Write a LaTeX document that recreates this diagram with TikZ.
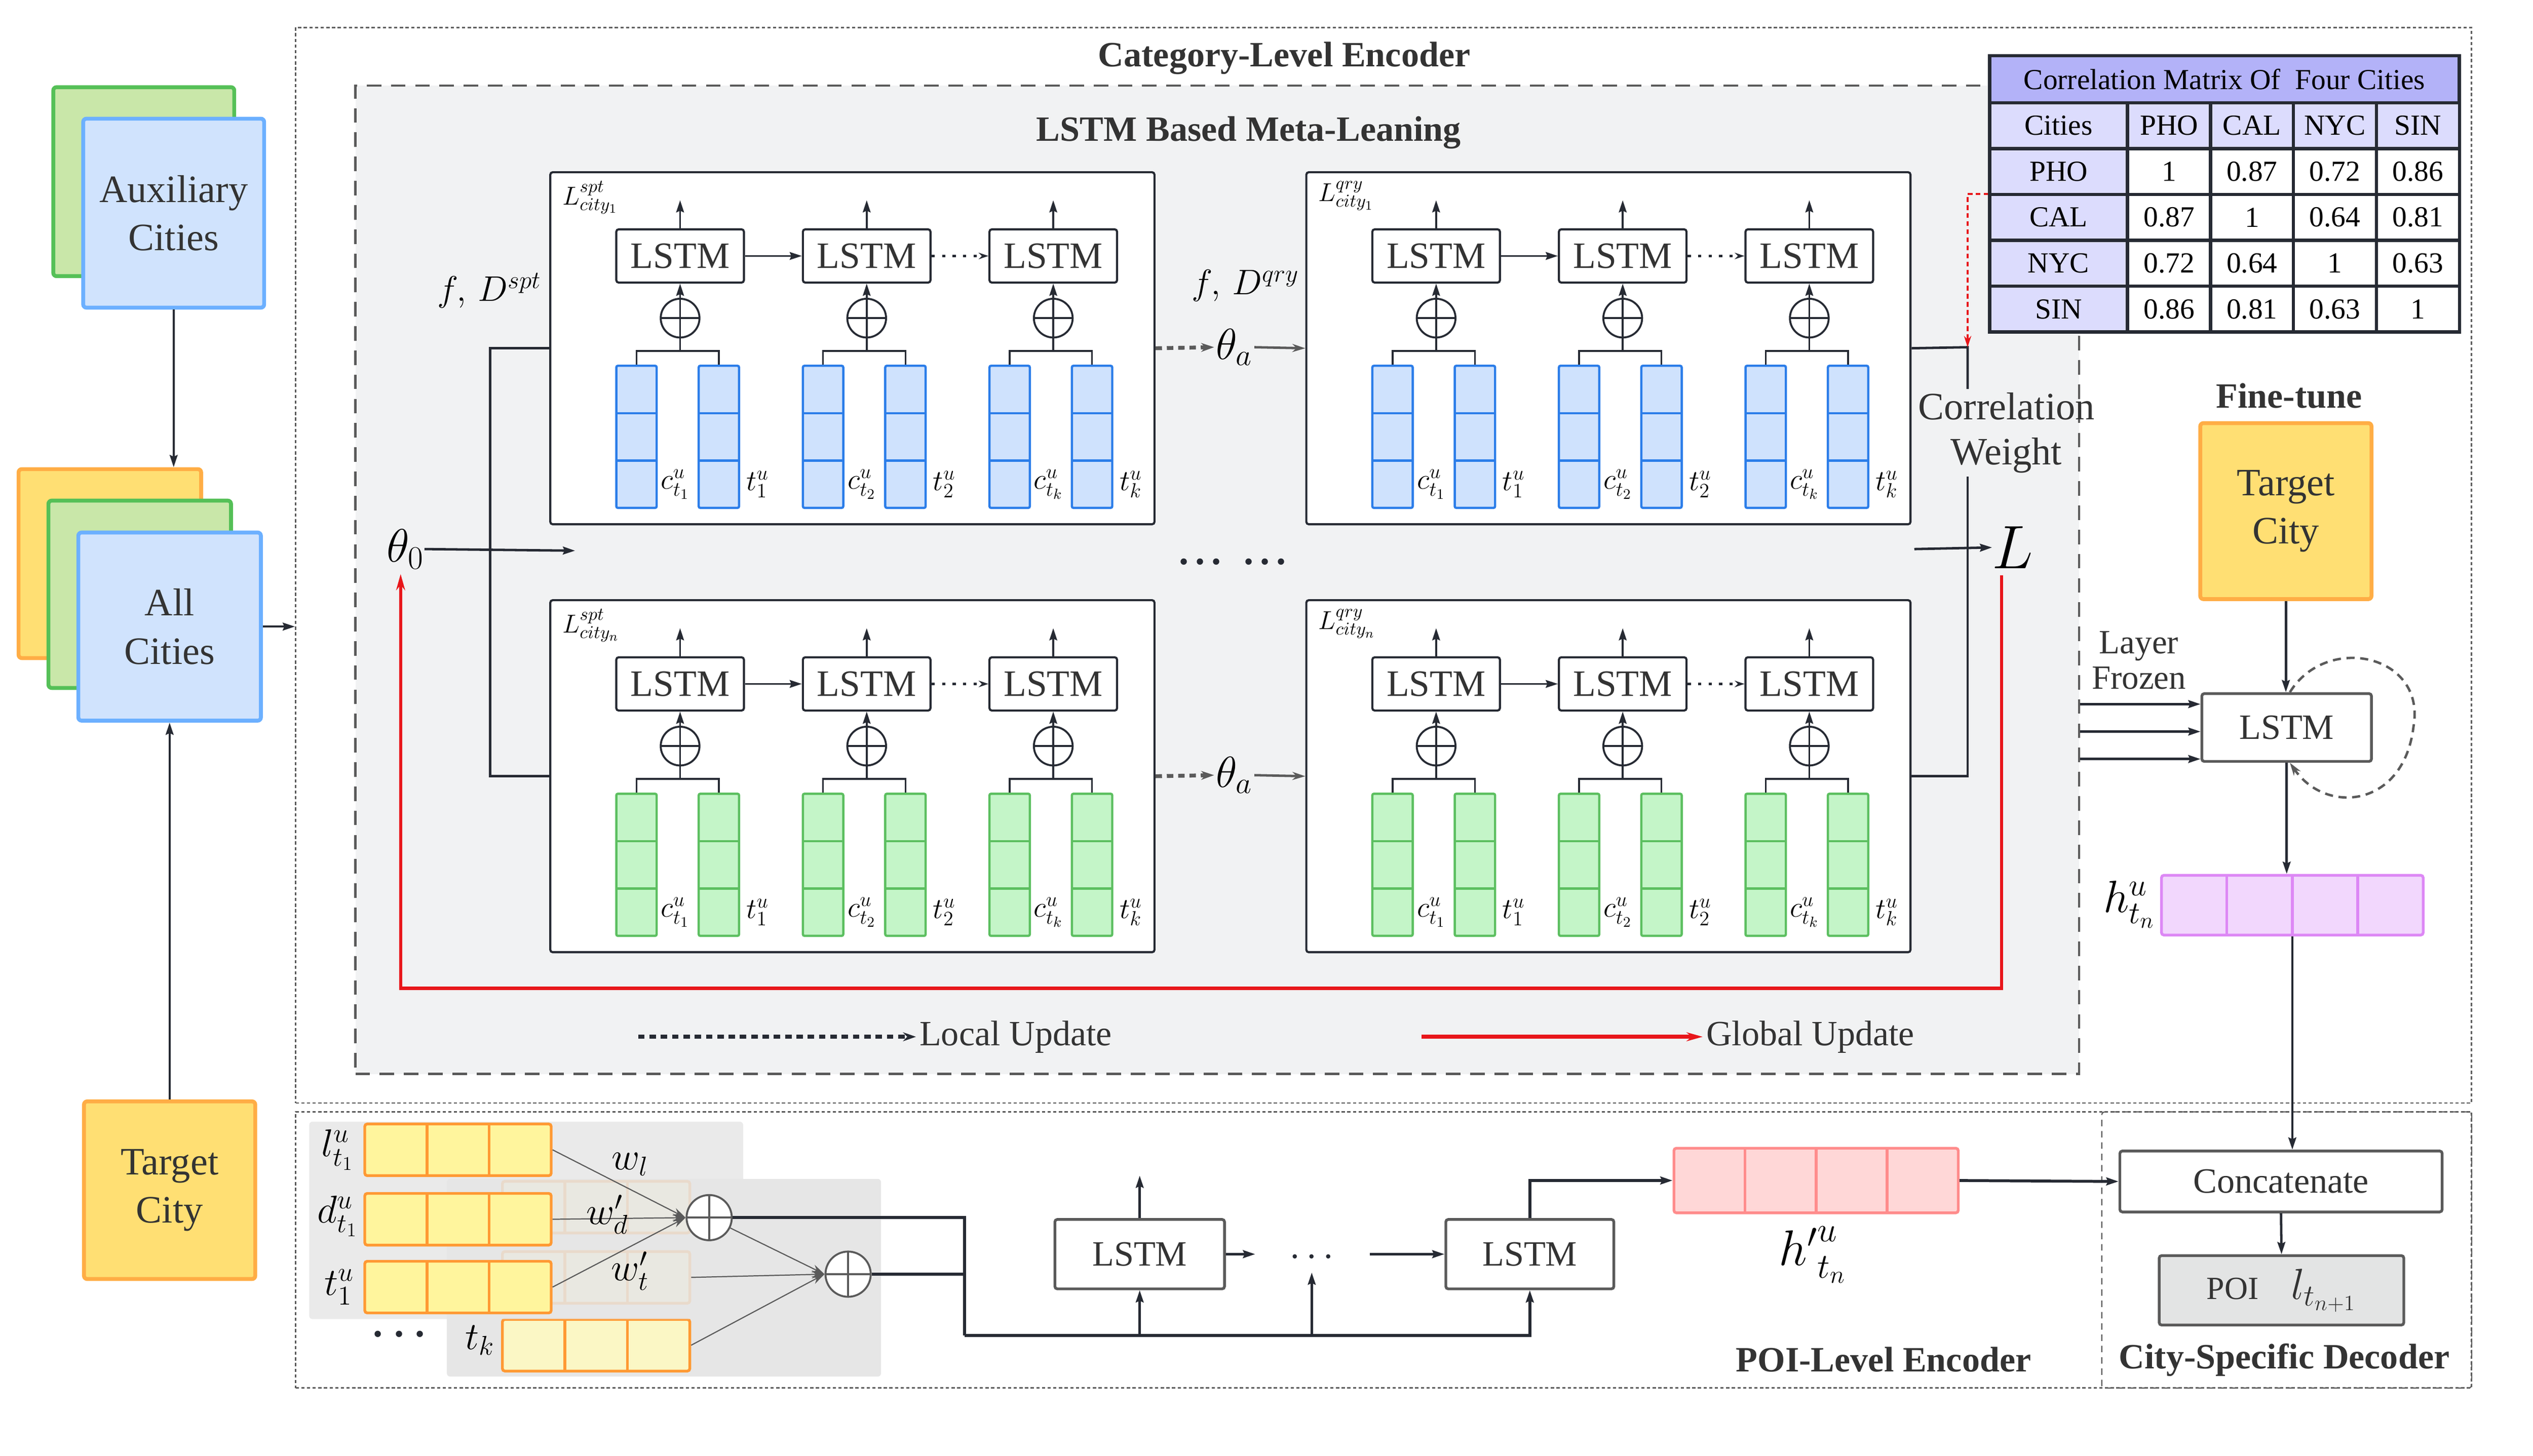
\RequirePackage{fix-cm}
\documentclass[tikz,border=0pt]{standalone}
\usepackage{fontspec}
\setmainfont{Liberation Serif}
\usetikzlibrary{arrows.meta,positioning,calc}

\definecolor{ink}{HTML}{262A33}
\definecolor{txt}{HTML}{333333}
\definecolor{edge}{HTML}{5A5A5A}
\definecolor{bggray}{HTML}{F1F2F3}
\definecolor{panel}{HTML}{E6E6E6}
\definecolor{bluefill}{HTML}{CFE2FD}
\definecolor{blueedge}{HTML}{2B7DE9}
\definecolor{greenfill}{HTML}{C4F5C8}
\definecolor{greenedge}{HTML}{5CBF60}
\definecolor{citygreen}{HTML}{C9E7A9}
\definecolor{citygreenb}{HTML}{55C057}
\definecolor{cityblue}{HTML}{D0E3FD}
\definecolor{citybb}{HTML}{6CB0FF}
\definecolor{cityyel}{HTML}{FFDF73}
\definecolor{cityorg}{HTML}{FFAD45}
\definecolor{vecyel}{HTML}{FFF59D}
\definecolor{vecpale}{HTML}{FBF7C5}
\definecolor{vecorg}{HTML}{FF9933}
\definecolor{pinkfill}{HTML}{FFD7D7}
\definecolor{pinkedge}{HTML}{FF8C8C}
\definecolor{violfill}{HTML}{F2D7FD}
\definecolor{violedge}{HTML}{DD88F5}
\definecolor{lavdark}{HTML}{B3B2F8}
\definecolor{lavlight}{HTML}{DCDCFD}
\definecolor{poigray}{HTML}{E3E4E4}
\definecolor{upred}{HTML}{E8161A}

\newcommand{\fsz}[2]{\fontsize{#1}{#2}\selectfont}

\tikzset{
  wire/.style={draw=ink, line width=1.1pt},
  bline/.style={draw=ink, line width=1.8pt},
  arr/.style={-{Stealth[length=7.5pt,width=4.8pt,inset=1pt]}},
  dotarr/.style={line width=1.5pt, dash pattern=on 2pt off 4.5pt, -{Stealth[length=6pt,width=4pt]}},
  localarr/.style={draw=edge, line width=2.4pt, dash pattern=on 4pt off 3pt, -{Stealth[length=8pt,width=5.5pt]}},
  passarr/.style={draw=edge, line width=1.5pt, -{Stealth[length=8pt,width=5pt]}},
  thinarr/.style={draw=edge, line width=0.7pt, -{Stealth[length=8pt,width=5pt]}},
  gline/.style={draw=upred, line width=2pt, -{Stealth[length=10pt,width=5.5pt]}},
  reddash/.style={draw=upred, line width=1.3pt, dash pattern=on 3pt off 2pt, -{Stealth[length=7pt,width=4.5pt]}},
  loopd/.style={draw=edge, line width=1.5pt, dash pattern=on 5pt off 3.5pt, -{Stealth[length=8pt,width=5pt]}},
  encbox/.style={draw=edge, line width=0.9pt, dash pattern=on 2pt off 1.5pt, inner sep=0pt},
  metabg/.style={draw=edge, fill=bggray, line width=1.4pt, dash pattern=on 9pt off 6pt, inner sep=0pt},
  poibox/.style={draw=edge, line width=1pt, dash pattern=on 2pt off 1.5pt, inner sep=0pt},
  decbox/.style={draw=edge, line width=0.7pt, dash pattern=on 4pt off 3pt, rounded corners=2pt, inner sep=0pt},
  panelbg/.style={fill=panel, rounded corners=2pt, inner sep=0pt},
  headtext/.style={font=\fsz{22}{26}\bfseries, text=txt, inner sep=1pt},
  lbl/.style={font=\fsz{24}{28}, text=txt, inner sep=2pt, align=center},
  legtext/.style={font=\fsz{22}{26}, text=txt, inner sep=2pt},
  bigmath/.style={font=\fsz{22}{24}, inner sep=0pt},
  thetaa/.style={font=\fsz{27}{28}, inner sep=1pt},
  wlab/.style={font=\fsz{24}{26}, inner sep=0pt},
  lossl/.style={font=\fsz{16}{17}, inner sep=0pt},
  veclab/.style={font=\fsz{18}{19}, inner sep=0pt},
  dotsnode/.style={font=\fsz{24}{26}\bfseries, text=ink, inner sep=0pt},
  citybox/.style={rounded corners=2pt, line width=2.4pt, inner sep=0pt, align=center, text=txt, font=\fsz{24}{30}},
  mbox/.style={draw=ink, fill=white, line width=1.3pt, rounded corners=1.5pt, minimum width=374pt, minimum height=218pt, inner sep=0pt},
  lstm/.style={draw=ink, fill=white, line width=1.3pt, rounded corners=1.5pt, minimum width=79pt, minimum height=33pt, inner sep=0pt, text=txt, font=\fsz{23}{24}},
  glstm/.style={draw=edge, fill=white, line width=1.7pt, rounded corners=1.5pt, inner sep=0pt, text=txt, font=\fsz{22}{24}},
  tcell/.style={draw=ink, line width=2pt, minimum width=51.35pt, minimum height=28.4pt, inner sep=0pt, font=\fsz{18}{20}},
  plusnode/.style={circle, draw=#1, fill=white, line width=1.2pt, minimum size=24pt, inner sep=0pt,
    path picture={\draw[#1, line width=1.2pt] (path picture bounding box.north) -- (path picture bounding box.south)
      (path picture bounding box.west) -- (path picture bounding box.east);}},
  plusnode/.default=ink,
  vcol/.style 2 args={fill=#1, draw=#2, line width=1.4pt, rounded corners=1pt, minimum width=25pt, minimum height=88pt, inner sep=0pt,
    path picture={\foreach \k in {1,2} \draw[#2, line width=1.4pt] ([yshift=-\k*29.33pt]path picture bounding box.north west) -- ([yshift=-\k*29.33pt]path picture bounding box.north east);}},
  hrow/.style n args={3}{draw=#1, fill=#2, line width=1.7pt, rounded corners=1.5pt, inner sep=0pt,
    path picture={\foreach \k in {#3} \draw[#1, line width=1.7pt] ([xshift=\k*1pt]path picture bounding box.north west) -- ([xshift=\k*1pt]path picture bounding box.south west);}}
}

\newcommand{\metabox}[6]{%
  \node[mbox, anchor=north west] (#1) at (#2,#3) {};
  \node[lossl, anchor=north west] (#1-lab) at (#2+8,#3+6) {#6};
  \foreach \i/\s in {0/1,1/2,2/k} {
    \node[lstm] (#1-l\i) at (#2+81+115.5*\i,#3+52.5) {LSTM};
    \coordinate (#1-u\i) at (#2+81+115.5*\i,#3+18);
    \coordinate (#1-b\i) at (#2+81+115.5*\i,#3+111.3);
    \node[vcol={#4}{#5}] (#1-c\i) at (#2+54+115.5*\i,#3+164.5) {};
    \node[vcol={#4}{#5}] (#1-t\i) at (#2+105+115.5*\i,#3+164.5) {};
    \draw[wire, arr] (#1-l\i) -- (#1-u\i);
    \draw[wire] (#1-c\i.north) |- (#1-b\i) -| (#1-t\i.north);
    \draw[wire, arr] (#1-b\i) -- (#1-l\i.south);
    \node[plusnode] (#1-o\i) at (#2+81+115.5*\i,#3+91) {};
    \node[veclab] (#1-cl\i) at (#2+78+115.5*\i,#3+194) {$c^u_{t_\s}$};
    \node[veclab] (#1-tl\i) at (#2+129+115.5*\i,#3+194) {$t^u_\s$};
  }
  \draw[wire, arr] (#1-l0) -- (#1-l1);
  \draw[draw=ink, dotarr] (#1-l1) -- (#1-l2);
}

\begin{document}
\begin{tikzpicture}[x=1pt,y=-1pt]
\useasboundingbox (0,0) rectangle (1568,901.4);

\node[encbox, minimum width=1347pt, minimum height=666pt] (cat) at (856.5,350) {};
\node[headtext] (cattitle) at (795,36) {Category-Level Encoder};
\node[metabg, minimum width=1067pt, minimum height=612pt] (meta) at (753.5,359) {};
\node[headtext] (metatitle) at (773,82) {LSTM Based Meta-Leaning};

\metabox{s1}{340}{106}{bluefill}{blueedge}{$L^{spt}_{city_1}$}
\metabox{q1}{808}{106}{bluefill}{blueedge}{$L^{qry}_{city_1}$}
\metabox{sn}{340}{371}{greenfill}{greenedge}{$L^{spt}_{city_n}$}
\metabox{qn}{808}{371}{greenfill}{greenedge}{$L^{qry}_{city_n}$}

\node[bigmath, font=\fsz{29}{30}] (th0) at (251,340) {$\theta_0$};
\coordinate (th0end) at (356,341);
\coordinate (split) at (303.5,341);
\draw[wire, line width=1.5pt, arr] (th0.east) -- (th0end);
\draw[wire, line width=1.5pt] (s1.west) -| (split) |- (sn.west);
\node[bigmath] (fdspt) at (303,180) {$f,\,D^{spt}$};
\node[bigmath] (fdqry) at (771,177) {$f,\,D^{qry}$};
\node[thetaa] (tha1) at (764,215) {$\theta_a$};
\node[thetaa] (than) at (764,480) {$\theta_a$};
\draw[localarr] (s1.east) -- (tha1.west);
\draw[passarr] (tha1.east) -- (q1.west);
\draw[localarr] (sn.east) -- (than.west);
\draw[passarr] (than.east) -- (qn.west);
\node[dotsnode] (mdots) at (763,348) {.\,.\,.\hspace{14pt}.\,.\,.};

\node[lbl] (corr) at (1242,268) {Correlation\\Weight};
\coordinate (cwtop) at (1218,215);
\draw[wire, line width=1.5pt] (q1.east) -- (cwtop) -- (cwtop |- corr.north);
\draw[wire, line width=1.5pt] (qn.east) -| (cwtop |- corr.south);
\node[bigmath, font=\fsz{38}{40}] (L) at (1246,339) {$L$};
\coordinate (lin) at (1185,340);
\draw[wire, line width=1.5pt, arr] (lin) -- (L.west);
\coordinate (redin) at (1231,120);
\draw[reddash] (redin) -| (cwtop);
\coordinate (gb) at (248,612);
\draw[gline] ([xshift=-7pt,yshift=-4pt]L.south) |- (gb) -- ([xshift=-3pt,yshift=-3pt]th0.south);

\node[legtext, anchor=west] (lu) at (567,642) {Local Update};
\coordinate[left=172pt of lu] (lus);
\draw[localarr, draw=ink] (lus) -- (lu);
\node[legtext, anchor=west] (gu) at (1054,642) {Global Update};
\coordinate[left=174pt of gu] (gus);
\draw[gline, line width=2.4pt] (gus) -- (gu);

\node[tcell, fill=lavdark, minimum width=290.8pt, minimum height=29.2pt] (tabh) at (1377,49) {Correlation Matrix Of~ Four Cities};
\node[tcell, fill=lavlight, minimum width=85.4pt] (t00) at (1274.3,77.8) {Cities};
\foreach \v [count=\j] in {PHO,CAL,NYC,SIN}
  \node[tcell, fill=lavlight] (t0\j) at (1291.35+51.35*\j,77.8) {\v};
\foreach \a/\b/\c/\d/\e [count=\r] in {PHO/1/0.87/0.72/0.86, CAL/0.87/1/0.64/0.81, NYC/0.72/0.64/1/0.63, SIN/0.86/0.81/0.63/1} {
  \node[tcell, fill=lavlight, minimum width=85.4pt] (t\r0) at (1274.3,77.8+28.4*\r) {\a};
  \foreach \v [count=\j] in {\b,\c,\d,\e}
    \node[tcell, fill=white] (t\r\j) at (1291.35+51.35*\j,77.8+28.4*\r) {\v};
}

\node[citybox, fill=citygreen, draw=citygreenb, minimum width=112pt, minimum height=117pt] (auxg) at (89,112.5) {};
\node[citybox, fill=cityblue, draw=citybb, minimum width=112pt, minimum height=117pt] (aux) at (107.5,132) {Auxiliary\\Cities};
\node[citybox, fill=cityyel, draw=cityorg, minimum width=113pt, minimum height=117pt] (allo) at (68,349) {};
\node[citybox, fill=citygreen, draw=citygreenb, minimum width=113pt, minimum height=116pt] (allg) at (86.5,368) {};
\node[citybox, fill=cityblue, draw=citybb, minimum width=113pt, minimum height=116.5pt] (allc) at (105,388) {All\\Cities};
\node[citybox, fill=cityyel, draw=cityorg, minimum width=106pt, minimum height=110pt] (tcl) at (105,737) {Target\\City};
\draw[wire, line width=1.4pt, arr] (aux.south) -- (aux.south |- allo.north);
\draw[wire, line width=1.4pt, arr] (tcl.north) -- (allc.south);
\draw[wire, line width=1.4pt, arr] (allc.east) -- (allc.east -| cat.west);

\node[headtext] (ft) at (1417,245) {Fine-tune};
\node[citybox, fill=cityyel, draw=cityorg, minimum width=106pt, minimum height=109pt] (tcr) at (1415,316.5) {Target\\City};
\node[glstm, minimum width=105pt, minimum height=42pt] (lstmr) at (1415.5,450.5) {LSTM};
\node[lbl, font=\fsz{21}{22}] (frozen) at (1324,409) {Layer\\Frozen};
\foreach \dy in {-14.5,2.5,19.5}
  \draw[wire, line width=1.5pt, arr] ($(lstmr.west -| meta.east)+(0,\dy)$) -- ($(lstmr.west)+(0,\dy)$);
\draw[wire, line width=1.5pt, arr] (tcr.south) -- (tcr.south |- lstmr.north);
\draw[loopd] ([xshift=2pt]lstmr.north) .. controls (1440,392) and (1502,405) .. (1494,450)
  .. controls (1488,500) and (1440,505) .. ([xshift=2pt]lstmr.south);
\node[hrow={violedge}{violfill}{40.5,81,121.5}, minimum width=162pt, minimum height=37pt] (hv) at (1419,560.5) {};
\node[bigmath, font=\fsz{28}{29}] (hlab) at (1318,560) {$h^u_{t_n}$};
\draw[wire, line width=1.5pt, arr] (lstmr.south) -- (lstmr.south |- hv.north);

\node[poibox, minimum width=1347pt, minimum height=171pt] (poienc) at (856.5,774) {};
\node[decbox, minimum width=229pt, minimum height=171pt] (dec) at (1415.5,774) {};
\node[panelbg, minimum width=268.7pt, minimum height=122.4pt] (pan2) at (411,791.2) {};
\node[hrow={vecorg}{vecpale}{38.7,77.3}, minimum width=116pt, minimum height=32pt] (vdp) at (369,747.5) {};
\node[hrow={vecorg}{vecpale}{38.7,77.3}, minimum width=116pt, minimum height=32pt] (vtp) at (369,791) {};
\node[hrow={vecorg}{vecpale}{38.7,77.3}, minimum width=116pt, minimum height=32pt] (vtk) at (369,833) {};
\node[panelbg, fill opacity=0.85, minimum width=268.6pt, minimum height=122.2pt] (pan1) at (325.7,755.7) {};
\node[hrow={vecorg}{vecyel}{38.5,77}, minimum width=115.4pt, minimum height=32pt] (vl) at (283.5,712) {};
\node[hrow={vecorg}{vecyel}{38.5,77}, minimum width=115.4pt, minimum height=32pt] (vd) at (283.5,755) {};
\node[hrow={vecorg}{vecyel}{38.5,77}, minimum width=115.4pt, minimum height=32pt] (vt) at (283.5,797) {};
\node[wlab] (lll) at (209,712) {$l^u_{t_1}$};
\node[wlab] (lld) at (209,753) {$d^u_{t_1}$};
\node[wlab] (llt) at (210,797) {$t^u_1$};
\node[dotsnode] (pdl) at (247,826) {.\hspace{7pt}.\hspace{7pt}.};
\node[wlab] (ltk) at (297,830) {$t_k$};
\node[plusnode=edge, minimum size=28pt] (o1) at (439,754) {};
\node[plusnode=edge, minimum size=28pt] (o2) at (525,789) {};
\foreach \v in {vl,vd,vt} \draw[thinarr] (\v.east) -- (o1.west);
\draw[thinarr] (o1) -- (o2.west);
\foreach \v in {vtp,vtk} \draw[thinarr] (\v.east) -- (o2.west);
\node[wlab] (wl) at (390,721) {$w_l$};
\node[wlab] (wd) at (376,752) {$w'_d$};
\node[wlab] (wt) at (390,787) {$w'_t$};

\coordinate (bus) at (597,827);
\node[glstm, minimum width=105pt, minimum height=43pt] (pl1) at (705.5,776.6) {LSTM};
\node[glstm, minimum width=104pt, minimum height=43pt] (pl2) at (947,776.6) {LSTM};
\node[dotsnode, font=\fsz{22}{24}] (pdots) at (812,778) {.\hspace{5pt}.\hspace{5pt}.};
\coordinate (pdu) at (812,788);
\coordinate (pl1u) at (705.5,728);
\coordinate (pd1) at (777,776.6);
\coordinate (pd2) at (848,776.6);
\draw[bline] (o1.east) -| (bus);
\draw[bline] (o2.east) -| (bus);
\draw[bline, arr] (bus) -| (pl2.south);
\draw[wire, line width=1.4pt, arr] (bus -| pl1.south) -- (pl1.south);
\draw[wire, line width=1.4pt, arr] (bus -| pdu) -- (pdu);
\draw[wire, line width=1.4pt, arr] (pl1.north) -- (pl1u);
\draw[bline, arr] (pl1.east) -- (pd1);
\draw[bline, arr] (pd2) -- (pl2.west);
\node[hrow={pinkedge}{pinkfill}{44,88,132}, minimum width=176pt, minimum height=40pt] (pink) at (1124.2,731) {};
\draw[bline, arr] (pl2.north) |- (pink.west);
\node[bigmath, font=\fsz{31}{32}] (hplab) at (1122,777) {${h'}^u_{t_n}$};
\node[glstm, minimum width=199.5pt, minimum height=37.7pt] (concat) at (1412,731.6) {Concatenate};
\node[glstm, fill=poigray, minimum width=151.4pt, minimum height=43pt] (poiout) at (1412.3,799) {{\fsz{20}{22}POI}\hspace{20pt}{\fsz{27}{28}$l_{t_{n+1}}$}};
\draw[bline, arr] (pink.east) -- (concat.west);
\draw[wire, line width=1.5pt, arr] (hv.south) -- (hv.south |- concat.north);
\draw[wire, line width=1.5pt, arr] (concat.south) -- (poiout.north);
\node[headtext] (ptitle) at (1166,842) {POI-Level Encoder};
\node[headtext] (dtitle) at (1414,842) {City-Specific Decoder};
\end{tikzpicture}
\end{document}
